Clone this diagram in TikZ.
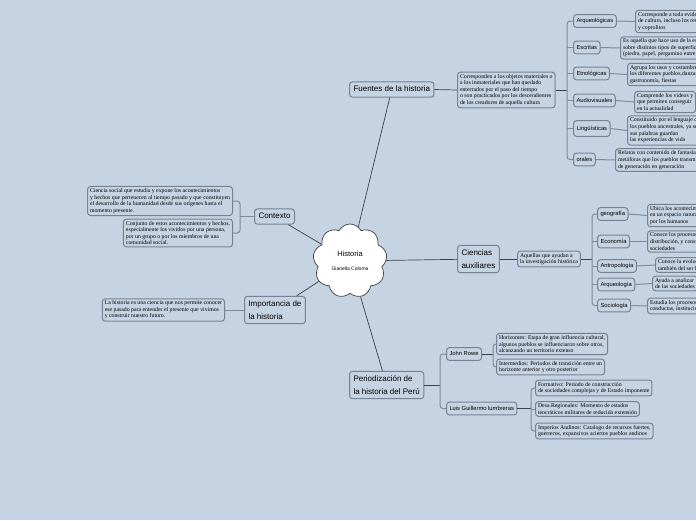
\documentclass[tikz,border=0pt]{standalone}
\usepackage{fontspec}
\setmainfont{Liberation Serif}
\newfontfamily\labfont{Liberation Sans}
\usetikzlibrary{shapes.symbols}
\definecolor{bg}{RGB}{197,211,226}
\definecolor{bord}{RGB}{118,130,146}
\definecolor{conn}{RGB}{60,65,75}
\definecolor{brc}{RGB}{128,138,152}
\tikzset{
  lab/.style={draw=bord, line width=1pt, rounded corners=3pt, fill=bg,
    font=\labfont\fontsize{8}{10}\selectfont, inner xsep=4pt, inner ysep=4pt,
    anchor=west, align=left, text height=5.8pt, text depth=1.5pt},
  lab2/.style={draw=bord, line width=1pt, rounded corners=3pt, fill=bg,
    font=\labfont\fontsize{8}{13.5}\selectfont, inner xsep=4pt, inner ysep=4pt,
    anchor=west, align=left},
  sm/.style={lab, font=\labfont\fontsize{5.8}{8}\selectfont, inner xsep=3pt, inner ysep=3.5pt, text height=4.5pt, text depth=1.3pt},
  desc/.style={draw=bord, line width=1pt, rounded corners=3pt, fill=bg,
    font=\fontsize{5.8}{6.6}\selectfont, inner xsep=2.5pt, inner ysep=2pt,
    anchor=west, align=left},
  conn/.style={draw=conn, line width=0.7pt},
  br/.style={draw=brc, line width=1pt, rounded corners=3pt},
}
\begin{document}
\begin{tikzpicture}[x=1pt,y=-1pt]
\fill[bg] (0,0) rectangle (696,520);
\useasboundingbox (0,0) rectangle (696,520);
\clip (0,0) rectangle (696,520);

% central
\node[cloud, cloud puffs=9, cloud puff arc=125, aspect=1, draw=black!75, fill=white, line width=0.7pt,
  minimum width=74pt, minimum height=74pt, inner sep=0pt, align=center] (hist) at (350,261)
  {{\labfont\fontsize{7.5}{9}\selectfont Historia}\\[2pt]{\labfont\fontsize{5}{6}\selectfont Gianella Coloma}};

% main branches
\node[lab] (fue) at (349,89.5) {Fuentes de la historia};
\node[lab2] (cie) at (457,259) {Ciencias\\auxiliares};
\node[lab] (ctx) at (254,216.5) {Contexto};
\node[lab2] (imp) at (244,310) {Importancia de\\la historia};
\node[lab2] (per) at (349,385) {Periodizaci\'on de\\la historia del Per\'u};

\draw[conn] (hist) -- (fue);
\draw[conn] (hist) -- (cie);
\draw[conn] (hist) -- (ctx);
\draw[conn] (hist) -- (imp);
\draw[conn] (hist) -- (per);

% ---------- Fuentes
\node[desc] (fued) at (457,90) {Corresponden a los objetos materiales o\\a los inmateriales que han quedado\\enterrados por el paso del tiempo\\o son practicados por los descendientes\\de los creadores de aquella cultura};
\draw[conn] (fue.east) -- (fued.west);
\coordinate (fx) at (567,90);
\draw[conn] (fued.east) -- (fx);

\node[sm] (f1) at (573,21) {Arqueol\'ogicas};
\node[sm] (f2) at (573,47.5) {Escritas};
\node[sm] (f3) at (573,73.5) {Etnol\'ogicas};
\node[sm] (f4) at (573,100.5) {Audiovisuales};
\node[sm, inner ysep=5pt] (f5) at (573,128.5) {Ling\"u\'isticas};
\node[sm] (f6) at (573,159.5) {orales};
\draw[br] (f1.west) -| (fx) |- (f6.west);
\foreach \n in {f2,f3,f4,f5} \draw[br] (\n.west) -- (\n.west -| fx);

\node[desc] (fd1) at (635,21.5) {Corresponde a toda evidencia\\de cultura, incluso los restos\\y coprolitos};
\node[desc] (fd2) at (620,48) {Es aquella que hace uso de la escritura\\sobre distintos tipos de superficies\\(piedra, papel, pergamino entre otros)};
\node[desc] (fd3) at (627,74.5) {Agrupa los usos y costumbres de\\los diferentes pueblos,danzas,\\gastronom\'ia, fiestas};
\node[desc] (fd4) at (634,102) {Comprende los videos y\\que permiten conseguir\\en la actualidad};
\node[desc] (fd5) at (627,130.5) {Constituido por el lenguaje de\\los pueblos ancestrales, ya sea\\sus palabras guardan\\las experiencias de vida};
\node[desc] (fd6) at (615,160) {Relatos con contenido de fantas\'ia y\\met\'aforas que los pueblos transmiten\\de generaci\'on en generaci\'on};
\foreach \a/\b in {f1/fd1,f2/fd2,f3/fd3,f4/fd4,f5/fd5,f6/fd6} \draw[br] (\a.east) -- (\b.west);

% ---------- Ciencias auxiliares
\node[desc] (cied) at (517,259) {Aquellas que ayudan a\\la investigaci\'on hist\'orica};
\draw[conn] (cie.east) -- (cied.west);
\coordinate (cx) at (592,259);
\draw[conn] (cied.east) -- (cx);
\node[sm] (c1) at (597,214) {geograf\'ia};
\node[sm] (c2) at (597,241.5) {Econom\'ia};
\node[sm] (c3) at (597,266) {Antropolog\'ia};
\node[sm] (c4) at (597,284.5) {Arqueolog\'ia};
\node[sm] (c5) at (597,305.5) {Sociolog\'ia};
\draw[br] (c1.west) -| (cx) |- (c5.west);
\foreach \n in {c2,c3,c4} \draw[br] (\n.west) -- (\n.west -| cx);
\node[desc] (cd1) at (647,215.5) {Ubica los acontecimientos\\en un espacio natural\\por los humanos};
\node[desc] (cd2) at (647,241.5) {Conoce los procesos de\\distribuci\'on, y consumo de\\sociedades};
\node[desc] (cd3) at (655,265) {Conoce la evoluci\'on\\tambi\'en del ser humano};
\node[desc] (cd4) at (652,283.5) {Ayuda a analizar\\de las sociedades};
\node[desc] (cd5) at (647,306) {Estudia los procesos\\conductas, instituciones};
\foreach \a/\b in {c1/cd1,c2/cd2,c3/cd3,c4/cd4,c5/cd5} \draw[br] (\a.east) -- (\b.west);

% ---------- Contexto
\node[desc, anchor=east] (x1) at (233,201) {Ciencia social que estudia y expone los acontecimientos\\y hechos que pertenecen al tiempo pasado y que constituyen\\el desarrollo de la humanidad desde sus or\'igenes hasta el\\momento presente.};
\node[desc, anchor=east] (x2) at (233,233) {Conjunto de estos acontecimientos y hechos,\\especialmente los vividos por una persona,\\por un grupo o por los miembros de una\\comunidad social.};
\coordinate (xx) at (240,216.5);
\draw[br] (x1.east) -| (xx) |- (x2.east);
\draw[br] (ctx.west) -- (xx);

% ---------- Importancia
\node[desc, anchor=east] (id) at (225,310) {La historia es una ciencia que nos permite conocer\\ese pasado para entender el presente que vivimos\\y construir nuestro futuro.};
\draw[br] (imp.west) -- (id.east);

% ---------- Periodizacion
\coordinate (px) at (440,385);
\draw[conn] (per.east) -- (px);
\node[sm] (p1) at (446,354) {John Rowe};
\node[sm] (p2) at (446,408.5) {Luis Guillermo lumbreras};
\draw[br] (p1.west) -| (px) |- (p2.west);

\node[desc] (r1) at (496,344) {Horizontes: Etapa de gran influencia cultural,\\algunos pueblos se influenciaron sobre otros,\\alcanzando un territorio extenso};
\node[desc] (r2) at (496,367) {Intermedios: Periodos de transici\'on entre un\\horizonte anterior y otro posterior};
\coordinate (rx) at (493,354);
\draw[conn] (p1.east) -- (rx);
\draw[br] (r1.west) -| (rx) |- (r2.west);

\node[desc] (l1) at (535,388) {Formativo: Periodo de construcci\'on\\de sociedades complejas y de Estado imponente};
\node[desc] (l2) at (535,409) {Desa.Regionales: Momento de estados\\teocr\'aticos militares de reducida extensi\'on};
\node[desc] (l3) at (535,431) {Imperios Andinos: Catalogo de recursos fuertes,\\guerreros, expansivos aciertos pueblos andinos};
\coordinate (lx) at (531,408.5);
\draw[conn] (p2.east) -- (lx);
\draw[br] (l1.west) -| (lx) |- (l3.west);
\draw[br] (l2.west) -- (l2.west -| lx);
\end{tikzpicture}
\end{document}
